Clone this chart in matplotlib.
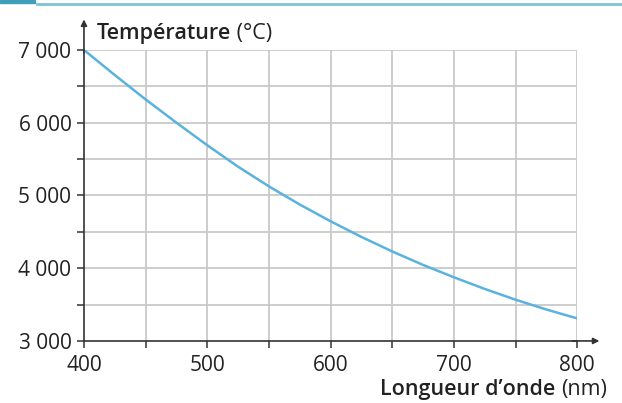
import matplotlib.pyplot as plt
from matplotlib.patches import Rectangle
from matplotlib.lines import Line2D

# Données
longueurs = [400, 425, 450, 475, 500, 525, 550, 575, 600,
             625, 650, 675, 700, 725, 750, 775, 800]
temperatures = [7000, 6655, 6320, 6000, 5690, 5395, 5125, 4875, 4645,
                4430, 4230, 4045, 3875, 3715, 3567, 3432, 3310]
xticks = [400, 500, 600, 700, 800]
yticks = [3000, 4000, 5000, 6000, 7000]
ytick_labels = ["3 000", "4 000", "5 000", "6 000", "7 000"]

plt.rcParams['font.family'] = ['Open Sans', 'DejaVu Sans']

fig = plt.figure(figsize=(6.22, 4.03), dpi=100)
ax = fig.add_axes([0.135, 0.154, 0.793, 0.722])

# bandeau décoratif en haut
fig.patches.append(Rectangle((0, 0.992), 0.057, 0.008, transform=fig.transFigure,
                             color='#3f9fb8', zorder=0))
fig.lines.append(Line2D([0.06, 1.0], [0.99, 0.99], transform=fig.transFigure,
                        color='#7cc3d6', lw=2))

ax.plot(longueurs, temperatures, color='#5ab2df', lw=1.8, zorder=3)

ax.set_xlim(400, 800)
ax.set_ylim(3000, 7000)
ax.set_xticks(xticks)
ax.set_xticks(range(450, 800, 100), minor=True)
ax.set_yticks(yticks)
ax.set_yticks(range(3500, 7000, 1000), minor=True)
ax.set_yticklabels(ytick_labels)

for v in range(450, 801, 50):
    ax.axvline(v, color='#c9c9c9', lw=1.3, zorder=1)
for v in range(3500, 7001, 500):
    ax.axhline(v, color='#c9c9c9', lw=1.3, zorder=1)

for s in ['top', 'right']:
    ax.spines[s].set_visible(False)
for s in ['left', 'bottom']:
    ax.spines[s].set_color('#333333')
    ax.spines[s].set_linewidth(1.2)

ax.tick_params(which='both', direction='out', length=5, width=1.1,
               color='#333333', labelsize=15, labelcolor='#222222')
ax.tick_params(axis='y', pad=4)
ax.tick_params(axis='x', pad=5)

# flèches des axes
ax.annotate('', xy=(0, 1.105), xytext=(0, 0.99), xycoords='axes fraction',
            arrowprops=dict(arrowstyle='-|>', color='#333333', lw=1.2,
                            mutation_scale=9, shrinkA=0, shrinkB=0))
ax.annotate('', xy=(1.045, 0), xytext=(0.99, 0), xycoords='axes fraction',
            arrowprops=dict(arrowstyle='-|>', color='#333333', lw=1.2,
                            mutation_scale=9, shrinkA=0, shrinkB=0))

# titres des axes
t1 = fig.text(0.1555, 0.9025, 'Température', fontsize=15.5, fontweight='semibold',
              color='#222222', va='baseline')
ax.annotate(' (°C)', xy=(1, 0), xycoords=t1, fontsize=15.5, color='#222222',
            va='bottom', ha='left')
t2 = fig.text(0.976, 0.02, '(nm)', fontsize=15.5, color='#222222', ha='right',
              va='baseline')
ax.annotate('Longueur d’onde ', xy=(0, 0), xycoords=t2, fontsize=15.5,
            fontweight='semibold', color='#222222', ha='right', va='bottom')

plt.savefig('out.png', dpi=100)
